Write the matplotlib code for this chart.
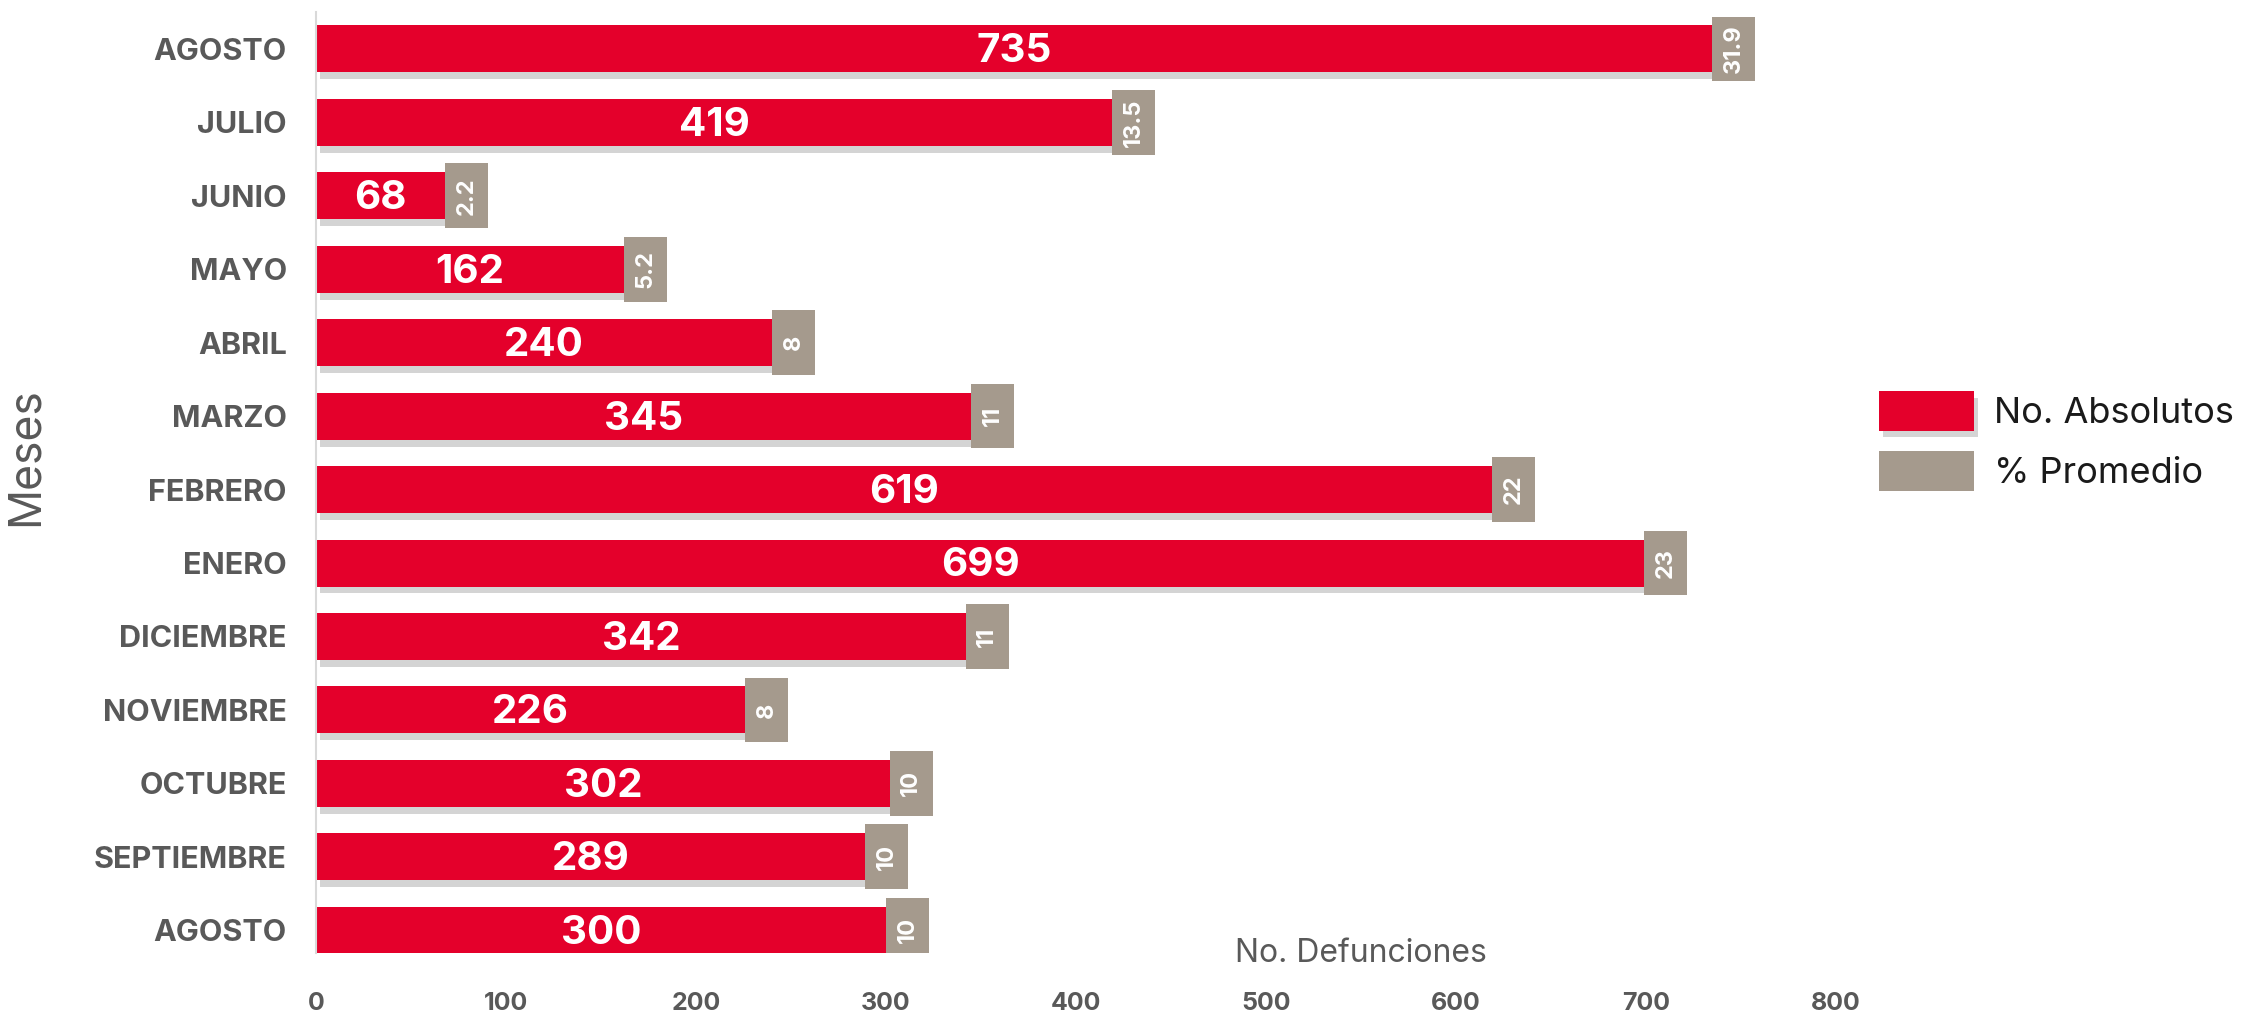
import matplotlib
matplotlib.use("Agg")
import matplotlib.pyplot as plt
import matplotlib.patheffects as pe
import numpy as np

# datos (de arriba hacia abajo)
meses = ['AGOSTO', 'JULIO', 'JUNIO', 'MAYO', 'ABRIL', 'MARZO', 'FEBRERO',
         'ENERO', 'DICIEMBRE', 'NOVIEMBRE', 'OCTUBRE', 'SEPTIEMBRE', 'AGOSTO']
absolutos = [735, 419, 68, 162, 240, 345, 619, 699, 342, 226, 302, 289, 300]
promedio = [31.9, 13.5, 2.2, 5.2, 8, 11, 22, 23, 11, 8, 10, 10, 10]
xticks = [0, 100, 200, 300, 400, 500, 600, 700, 800]

ROJO = '#E4002B'
GRIS = '#A59A8D'
TEXTO = '#595959'

plt.rcParams['font.family'] = ['Inter', 'DejaVu Sans']

fig = plt.figure(figsize=(22.53, 10.13), dpi=100)
ax = fig.add_axes([0.1403, 0.0592, 0.8216 - 0.1403, 0.988 - 0.0592])

# posiciones: la fila de arriba es la primera
y = np.arange(len(meses))[::-1]

bars = ax.barh(y, absolutos, height=0.64, color=ROJO, label='No. Absolutos', zorder=2)
for b in bars:
    b.set_path_effects([pe.SimplePatchShadow(offset=(3, -5), shadow_rgbFace='#666666', alpha=0.28),
                        pe.Normal()])

caja = 22.5
grises = ax.barh(y, [caja] * len(promedio), left=absolutos, height=0.88,
                 color=GRIS, label='% Promedio', zorder=3)

for yi, a, p in zip(y, absolutos, promedio):
    ax.text(a / 2, yi - 0.04, f'{a}', ha='center', va='center', color='white',
            fontsize=29, fontweight='bold', zorder=4)
    ax.text(a + caja / 2, yi, f'{p:g}', ha='center', va='center', color='white',
            fontsize=17, fontweight='bold', rotation=90, zorder=4)

ax.set_xlim(0, 808)
ax.set_ylim(-0.31, 12.5)
ax.set_yticks(y)
ax.set_yticklabels(meses, fontsize=22, fontweight='bold', color=TEXTO)
ax.set_xticks(xticks)
ax.set_xticklabels([str(t) for t in xticks], fontsize=18, fontweight='bold', color=TEXTO)
ax.tick_params(axis='y', length=0, pad=21)
ax.tick_params(axis='x', length=0, pad=28)

for s in ['top', 'right', 'bottom']:
    ax.spines[s].set_visible(False)
ax.spines['left'].set_color('#D9D9D9')
ax.spines['left'].set_linewidth(1.5)

fig.text(1361 / 2253, 1 - 954 / 1013, 'No. Defunciones', ha='center', va='center',
         fontsize=23, color=TEXTO)
fig.text(26 / 2253, 1 - 457 / 1013, 'Meses', ha='center', va='center',
         fontsize=32, color=TEXTO, rotation=90)

fig.legend(handles=[bars, grises], labels=['No. Absolutos', '% Promedio'],
           loc='center left', bbox_to_anchor=(1846 / 2253, 1 - 441 / 1013),
           frameon=False, fontsize=26, handlelength=2.65, handleheight=1.3,
           labelspacing=0.58, handletextpad=0.55, labelcolor='#1A1A1A')

fig.savefig('out.png', dpi=100)
